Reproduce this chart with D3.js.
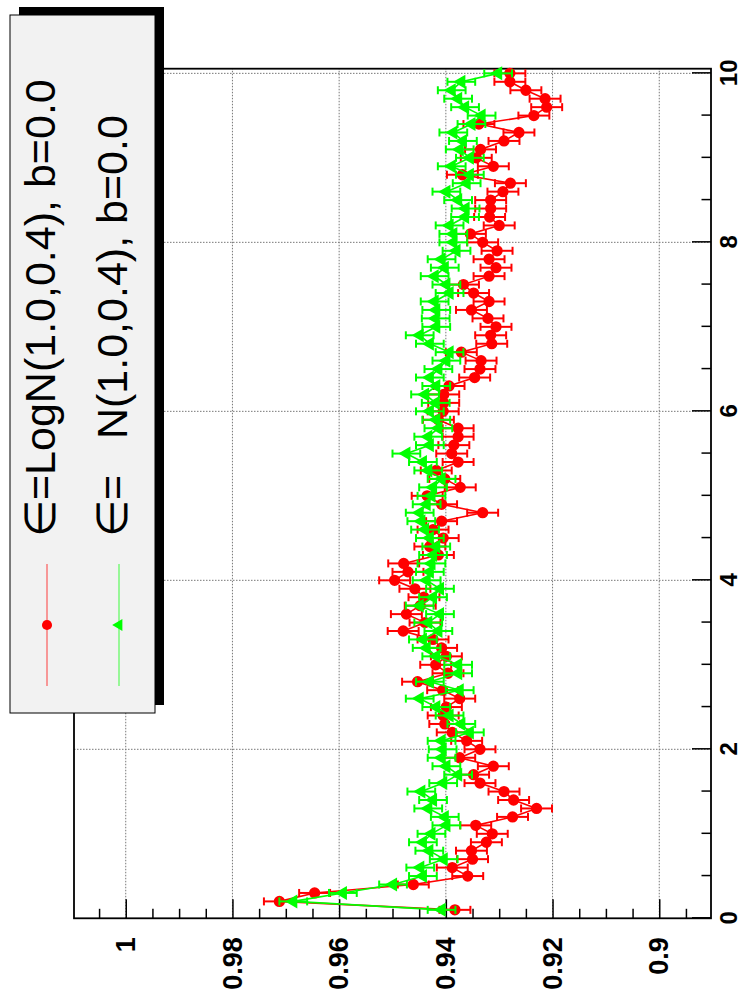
<!DOCTYPE html>
<html>
<head>
<meta charset="utf-8">
<script src="https://cdn.jsdelivr.net/npm/d3@7"></script>
<style>
  body { margin: 0; background: #fff; }
  svg { display: block; font-family: "Liberation Sans", Arial, sans-serif; }
</style>
</head>
<body>
<div id="chart"></div>
<script>
// x positions of the points (same for both series)
const xValues = [
  0.1, 0.2, 0.3, 0.4, 0.5, 0.6, 0.7, 0.8, 0.9, 1.0,
  1.1, 1.2, 1.3, 1.4, 1.5, 1.6, 1.7, 1.8, 1.9, 2.0,
  2.1, 2.2, 2.3, 2.4, 2.5, 2.6, 2.7, 2.8, 2.9, 3.0,
  3.1, 3.2, 3.3, 3.4, 3.5, 3.6, 3.7, 3.8, 3.9, 4.0,
  4.1, 4.2, 4.3, 4.4, 4.5, 4.6, 4.7, 4.8, 4.9, 5.0,
  5.1, 5.2, 5.3, 5.4, 5.5, 5.6, 5.7, 5.8, 5.9, 6.0,
  6.1, 6.2, 6.3, 6.4, 6.5, 6.6, 6.7, 6.8, 6.9, 7.0,
  7.1, 7.2, 7.3, 7.4, 7.5, 7.6, 7.7, 7.8, 7.9, 8.0,
  8.1, 8.2, 8.3, 8.4, 8.5, 8.6, 8.7, 8.8, 8.9, 9.0,
  9.1, 9.2, 9.3, 9.4, 9.5, 9.6, 9.7, 9.8, 9.9, 10.0
];

// eps = LogN(1.0,0.4)
const logNValues = [
  0.9383, 0.9712, 0.9646, 0.9461, 0.9359, 0.9388, 0.9350, 0.9352, 0.9324, 0.9313,
  0.9344, 0.9275, 0.9230, 0.9273, 0.9291, 0.9336, 0.9348, 0.9311, 0.9374, 0.9336,
  0.9361, 0.9388, 0.9402, 0.9405, 0.9399, 0.9374, 0.9406, 0.9453, 0.9396, 0.9419,
  0.9399, 0.9408, 0.9424, 0.9480, 0.9439, 0.9474, 0.9448, 0.9441, 0.9458, 0.9496,
  0.9471, 0.9479, 0.9414, 0.9430, 0.9405, 0.9424, 0.9408, 0.9331, 0.9408, 0.9435,
  0.9373, 0.9402, 0.9418, 0.9377, 0.9389, 0.9385, 0.9377, 0.9377, 0.9414, 0.9405,
  0.9404, 0.9404, 0.9394, 0.9346, 0.9336, 0.9334, 0.9371, 0.9314, 0.9316, 0.9306,
  0.9321, 0.9352, 0.9319, 0.9348, 0.9367, 0.9319, 0.9306, 0.9319, 0.9304, 0.9331,
  0.9354, 0.9300, 0.9318, 0.9316, 0.9316, 0.9293, 0.9279, 0.9369, 0.9311, 0.9343,
  0.9335, 0.9291, 0.9263, 0.9338, 0.9235, 0.9211, 0.9214, 0.9250, 0.9280, 0.9280
];

// eps = N(1.0,0.4)
const normValues = [
  0.9408, 0.9686, 0.9593, 0.9499, 0.9443, 0.9448, 0.9404, 0.9431, 0.9443, 0.9427,
  0.9399, 0.9402, 0.9433, 0.9424, 0.9446, 0.9405, 0.9377, 0.9399, 0.9408, 0.9406,
  0.9408, 0.9355, 0.9371, 0.9393, 0.9418, 0.9449, 0.9374, 0.9430, 0.9377, 0.9377,
  0.9418, 0.9436, 0.9443, 0.9414, 0.9433, 0.9411, 0.9449, 0.9424, 0.9411, 0.9436,
  0.9430, 0.9427, 0.9424, 0.9418, 0.9430, 0.9439, 0.9446, 0.9449, 0.9436, 0.9427,
  0.9424, 0.9408, 0.9433, 0.9443, 0.9474, 0.9430, 0.9433, 0.9414, 0.9418, 0.9430,
  0.9419, 0.9439, 0.9418, 0.9430, 0.9414, 0.9399, 0.9393, 0.9430, 0.9449, 0.9418,
  0.9419, 0.9418, 0.9421, 0.9393, 0.9399, 0.9421, 0.9402, 0.9408, 0.9380, 0.9386,
  0.9386, 0.9393, 0.9364, 0.9363, 0.9377, 0.9399, 0.9361, 0.9355, 0.9389, 0.9355,
  0.9374, 0.9368, 0.9386, 0.9352, 0.9333, 0.9364, 0.9377, 0.9389, 0.9371, 0.9302
];

const logNError = 0.0029;
const normError = 0.0026;

const xMajorTicks = [0, 2, 4, 6, 8, 10];
const xMinorTicks = [0.5, 1, 1.5, 2.5, 3, 3.5, 4.5, 5, 5.5, 6.5, 7, 7.5, 8.5, 9, 9.5];
const yMajorTicks = [0.9, 0.92, 0.94, 0.96, 0.98, 1.0];
const yMajorLabels = ["0.9", "0.92", "0.94", "0.96", "0.98", "1"];
const yMinorTicks = [0.895, 0.905, 0.91, 0.915, 0.925, 0.93, 0.935, 0.945, 0.95, 0.955,
  0.965, 0.97, 0.975, 0.985, 0.99, 0.995, 1.005];

const legendLabels = ["\u2208=LogN(1.0,0.4), b=0.0", "\u2208=   N(1.0,0.4), b=0.0"];

const pageW = 743, pageH = 1002;

const svg = d3.select("#chart").append("svg")
  .attr("width", pageW)
  .attr("height", pageH);

// the whole plot is drawn upright, then turned a quarter turn counter-clockwise
const g = svg.append("g")
  .attr("transform", `translate(0,${pageH}) rotate(-90)`);

const frame = { left: 83.7, right: 933.3, top: 74, bottom: 711 };

const x = d3.scaleLinear().domain([0, 10.055]).range([frame.left, frame.right]);
const y = d3.scaleLinear().domain([0.8903, 1.0097]).range([frame.bottom, frame.top]);

// grid
const grid = g.append("g")
  .attr("stroke", "#777")
  .attr("stroke-width", 1)
  .attr("stroke-dasharray", "1.5,1.5");

grid.selectAll("line.gx")
  .data(xMajorTicks.filter((d) => d > 0))
  .join("line")
  .attr("x1", (d) => x(d))
  .attr("x2", (d) => x(d))
  .attr("y1", frame.top)
  .attr("y2", frame.bottom);

grid.selectAll("line.gy")
  .data(yMajorTicks)
  .join("line")
  .attr("x1", frame.left)
  .attr("x2", frame.right)
  .attr("y1", (d) => y(d))
  .attr("y2", (d) => y(d));

// axes (ticks inside the frame, like ROOT)
g.append("g")
  .attr("class", "xaxis")
  .attr("transform", `translate(0,${frame.bottom})`)
  .call(d3.axisBottom(x).tickValues(xMajorTicks).tickSizeInner(-19).tickSizeOuter(0).tickPadding(10));

g.append("g")
  .attr("transform", `translate(0,${frame.bottom})`)
  .call(d3.axisBottom(x).tickValues(xMinorTicks).tickSizeInner(-9.5).tickSizeOuter(0).tickFormat(""));

g.append("g")
  .attr("class", "yaxis")
  .attr("transform", `translate(${frame.left},0)`)
  .call(d3.axisLeft(y).tickValues(yMajorTicks).tickSizeInner(-19).tickSizeOuter(0).tickPadding(19)
    .tickFormat((d, i) => yMajorLabels[i]));

g.append("g")
  .attr("transform", `translate(${frame.left},0)`)
  .call(d3.axisLeft(y).tickValues(yMinorTicks).tickSizeInner(-9.5).tickSizeOuter(0).tickFormat(""));

g.selectAll(".domain").remove();
g.selectAll(".tick line").attr("stroke", "#000").attr("stroke-width", 1.5);
g.selectAll(".tick text")
  .attr("fill", "#000")
  .style("font-weight", "bold");
g.selectAll(".yaxis .tick text").style("font-size", "27px");
g.selectAll(".xaxis .tick text")
  .style("font-size", "24px")
  .attr("y", 9);

g.append("rect")
  .attr("x", frame.left)
  .attr("y", frame.top)
  .attr("width", frame.right - frame.left)
  .attr("height", frame.bottom - frame.top)
  .attr("fill", "none")
  .attr("stroke", "#000")
  .attr("stroke-width", 1.8);

// data series
function drawSeries(values, err, color, marker) {
  const pts = xValues.map((xv, i) => ({ x: xv, v: values[i] }));
  const s = g.append("g");

  s.append("path")
    .datum(pts)
    .attr("fill", "none")
    .attr("stroke", color)
    .attr("stroke-width", 1.6)
    .attr("d", d3.line().x((d) => x(d.x)).y((d) => y(d.v)));

  const bars = s.append("g").attr("stroke", color).attr("stroke-width", 2);
  bars.selectAll("line.bar")
    .data(pts)
    .join("line")
    .attr("x1", (d) => x(d.x))
    .attr("x2", (d) => x(d.x))
    .attr("y1", (d) => y(d.v - err))
    .attr("y2", (d) => y(d.v + err));
  bars.selectAll("line.lo")
    .data(pts)
    .join("line")
    .attr("x1", (d) => x(d.x) - 4)
    .attr("x2", (d) => x(d.x) + 4)
    .attr("y1", (d) => y(d.v - err))
    .attr("y2", (d) => y(d.v - err));
  bars.selectAll("line.hi")
    .data(pts)
    .join("line")
    .attr("x1", (d) => x(d.x) - 4)
    .attr("x2", (d) => x(d.x) + 4)
    .attr("y1", (d) => y(d.v + err))
    .attr("y2", (d) => y(d.v + err));

  s.selectAll("path.mk")
    .data(pts)
    .join("path")
    .attr("transform", (d) => `translate(${x(d.x)},${y(d.v)})`)
    .attr("fill", color)
    .attr("d", d3.symbol().type(marker).size(marker === d3.symbolCircle ? 100 : 85));
}

drawSeries(logNValues, logNError, "#ff0000", d3.symbolCircle);
drawSeries(normValues, normError, "#00ff00", d3.symbolTriangle);

// legend with shadow
const legend = { left: 289, right: 987, top: 10, bottom: 155 };
g.append("rect")
  .attr("x", legend.left + 8)
  .attr("y", legend.top + 9)
  .attr("width", legend.right - legend.left)
  .attr("height", legend.bottom - legend.top)
  .attr("fill", "#000");
g.append("rect")
  .attr("x", legend.left)
  .attr("y", legend.top)
  .attr("width", legend.right - legend.left)
  .attr("height", legend.bottom - legend.top)
  .attr("fill", "#f2f2f2")
  .attr("stroke", "#000")
  .attr("stroke-width", 1);

const entries = [
  { label: legendLabels[0], color: "#ff0000", marker: d3.symbolCircle, v: 47 },
  { label: legendLabels[1], color: "#00ff00", marker: d3.symbolTriangle, v: 119 }
];

entries.forEach((e) => {
  g.append("line")
    .attr("x1", 316).attr("x2", 438)
    .attr("y1", e.v).attr("y2", e.v)
    .attr("stroke", e.color)
    .attr("stroke-opacity", 0.5)
    .attr("stroke-width", 1.5);
  g.append("path")
    .attr("transform", `translate(377,${e.v})`)
    .attr("fill", e.color)
    .attr("d", d3.symbol().type(e.marker).size(e.marker === d3.symbolCircle ? 80 : 60));
  g.append("text")
    .attr("x", 465)
    .attr("y", e.v + 8)
    .style("font-size", "43px")
    .style("white-space", "pre")
    .attr("fill", "#000")
    .text(e.label);
});
</script>
</body>
</html>
